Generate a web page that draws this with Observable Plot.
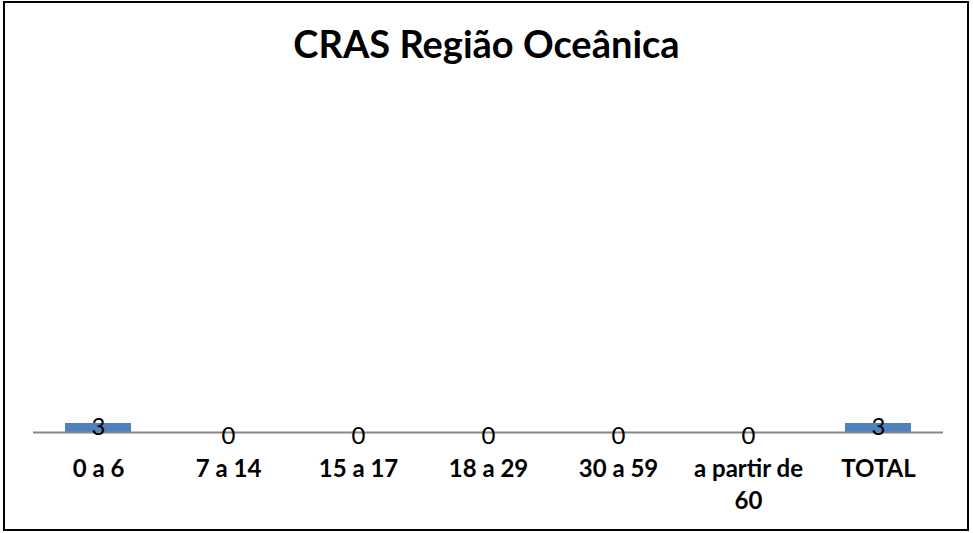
<!DOCTYPE html>
<html>
<head>
<meta charset="utf-8">
<script src="https://cdn.jsdelivr.net/npm/d3@7"></script>
<script src="https://cdn.jsdelivr.net/npm/@observablehq/plot@0.6"></script>
<style>
  html, body { margin: 0; padding: 0; background: #fff; }
  #wrap { position: relative; width: 973px; height: 533px; overflow: hidden; font-family: Lato, "Open Sans", sans-serif; }
  #frame { position: absolute; left: 3px; top: 1px; width: 962px; height: 526px; border: 2px solid #000; box-sizing: content-box; pointer-events: none; }
  #title { position: absolute; left: 0; width: 973px; top: 24px; text-align: center; font-size: 38px; font-weight: 700; color: #000; line-height: 1; }
  #chart { position: absolute; left: 0; top: 0; }
</style>
</head>
<body>
<div id="wrap">
  <div id="chart"></div>
  <div id="title">CRAS Região Oceânica</div>
  <div id="frame"></div>
</div>
<script>
const categories = ["0 a 6", "7 a 14", "15 a 17", "18 a 29", "30 a 59", "a partir de 60", "TOTAL"];
const values = [3, 0, 0, 0, 0, 0, 3];

const data = categories.map((c, i) => ({category: c, value: values[i]}));

const chart = Plot.plot({
  width: 973,
  height: 533,
  marginLeft: 33,
  marginRight: 30,
  marginTop: 132,
  marginBottom: 101,
  style: {fontFamily: "Lato, 'Open Sans', sans-serif", background: "transparent"},
  x: {domain: categories, paddingInner: 0.49, paddingOuter: 0.245, axis: null},
  y: {domain: [0, 100], axis: null},
  marks: [
    Plot.barY(data, {x: "category", y: "value", fill: "#4F81BD"}),
    Plot.ruleY([0], {stroke: "#868686", strokeWidth: 2}),
    Plot.text(data, {x: "category", y: "value", text: d => String(d.value), dy: 4, lineAnchor: "middle", fontSize: 24, fill: "#000"}),
    Plot.text(categories, {x: d => d, frameAnchor: "bottom", lineAnchor: "top", dy: 22, lineWidth: 6, lineHeight: 1.33, fontSize: 24, fontWeight: "bold", fill: "#000"})
  ]
});
document.getElementById("chart").appendChild(chart);
</script>
</body>
</html>
